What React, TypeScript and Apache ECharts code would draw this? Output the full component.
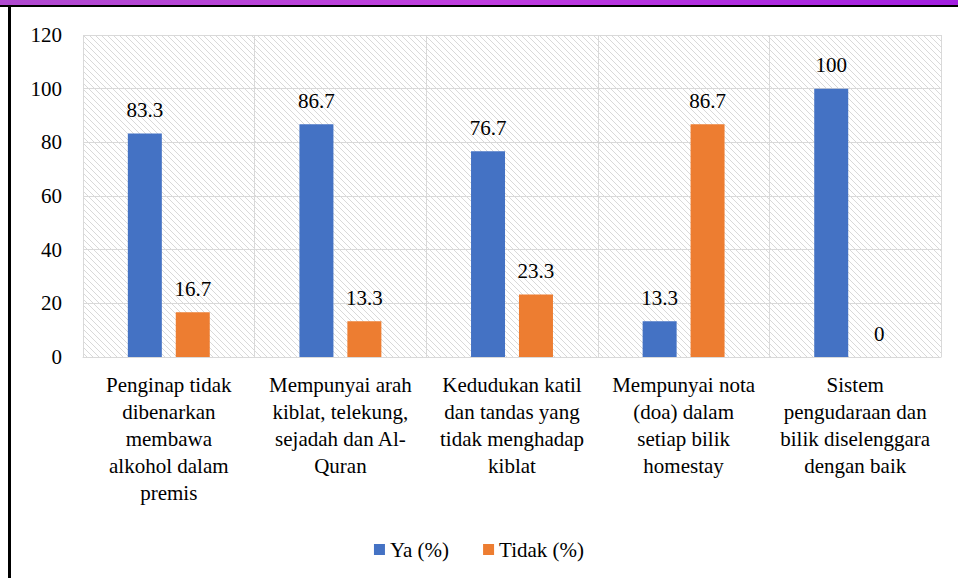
import React, { useEffect, useRef } from "react";
import * as echarts from "echarts";

const categories = [
  "Penginap tidak\ndibenarkan\nmembawa\nalkohol dalam\npremis",
  "Mempunyai arah\nkiblat, telekung,\nsejadah dan Al-\nQuran",
  "Kedudukan katil\ndan tandas yang\ntidak menghadap\nkiblat",
  "Mempunyai nota\n(doa) dalam\nsetiap bilik\nhomestay",
  "Sistem\npengudaraan dan\nbilik diselenggara\ndengan baik",
];
const yaValues = [83.3, 86.7, 76.7, 13.3, 100];
const tidakValues = [16.7, 13.3, 23.3, 86.7, 0];
const seriesNames = ["Ya (%)", "Tidak (%)"];

const FONT = "Liberation Serif, Times New Roman, serif";

const hatchSvg =
  "<svg xmlns='http://www.w3.org/2000/svg' width='6' height='6'>" +
  "<path d='M-1,-1 L7,7 M-1,5 L1,7 M5,-1 L7,1' stroke='#d9d9d9' stroke-width='1'/></svg>";
const hatchUrl = "data:image/svg+xml;charset=utf-8," + encodeURIComponent(hatchSvg);

export default function App() {
  const ref = useRef<HTMLDivElement>(null);
  useEffect(() => {
    if (!ref.current) return;
    const chart = echarts.init(ref.current, null, { renderer: "svg" });
    const labelStyle = {
      show: true,
      position: "top" as const,
      distance: 13,
      fontFamily: FONT,
      fontSize: 21,
      color: "#000",
    };
    chart.setOption({
      animation: false,
      backgroundColor: "#fff",
      textStyle: { fontFamily: FONT },
      graphic: [
        {
          type: "rect",
          shape: { x: 0, y: 0, width: 958, height: 5 },
          style: {
            fill: new echarts.graphic.LinearGradient(0, 0, 1, 0, [
              { offset: 0, color: "#b04ad0" },
              { offset: 0.5, color: "#c03ee0" },
              { offset: 1, color: "#a21fe0" },
            ]),
          },
          silent: true,
        },
        {
          type: "rect",
          shape: { x: 0, y: 5, width: 958, height: 2 },
          style: { fill: "#000" },
          silent: true,
        },
        {
          type: "rect",
          shape: { x: 8, y: 6, width: 3, height: 572 },
          style: { fill: "#000" },
          silent: true,
        },
      ],
      grid: {
        left: 83,
        right: 17,
        top: 35,
        bottom: 221,
        show: true,
        borderWidth: 0,
        backgroundColor: { image: hatchUrl, repeat: "repeat" },
      },
      legend: {
        data: seriesNames,
        top: 534,
        left: "center",
        itemWidth: 11,
        itemHeight: 11,
        itemGap: 34,
        itemTextGap: 5,
        icon: "rect",
        textStyle: { fontFamily: FONT, fontSize: 21, color: "#000" },
      },
      xAxis: {
        type: "category",
        data: categories,
        axisLine: { show: true, lineStyle: { color: "#d9d9d9", width: 1 } },
        axisTick: { show: false },
        splitLine: { show: true, lineStyle: { color: "#d9d9d9", width: 1 } },
        axisLabel: {
          interval: 0,
          fontFamily: FONT,
          fontSize: 21,
          color: "#000",
          lineHeight: 27,
          margin: 14,
        },
      },
      yAxis: {
        type: "value",
        min: 0,
        max: 120,
        interval: 20,
        axisLine: { show: false },
        axisTick: { show: false },
        splitLine: { show: true, lineStyle: { color: "#d9d9d9", width: 1 } },
        axisLabel: {
          fontFamily: FONT,
          fontSize: 21,
          color: "#000",
          margin: 21,
        },
      },
      series: [
        {
          name: seriesNames[0],
          type: "bar",
          data: yaValues,
          barWidth: 34,
          barGap: "41%",
          itemStyle: { color: "#4472C4" },
          label: labelStyle,
        },
        {
          name: seriesNames[1],
          type: "bar",
          data: tidakValues,
          barWidth: 34,
          itemStyle: { color: "#ED7D31" },
          label: labelStyle,
        },
      ],
    });
    return () => chart.dispose();
  }, []);
  return <div ref={ref} style={{ width: 958, height: 578, position: "absolute", left: 0, top: 0 }} />;
}
